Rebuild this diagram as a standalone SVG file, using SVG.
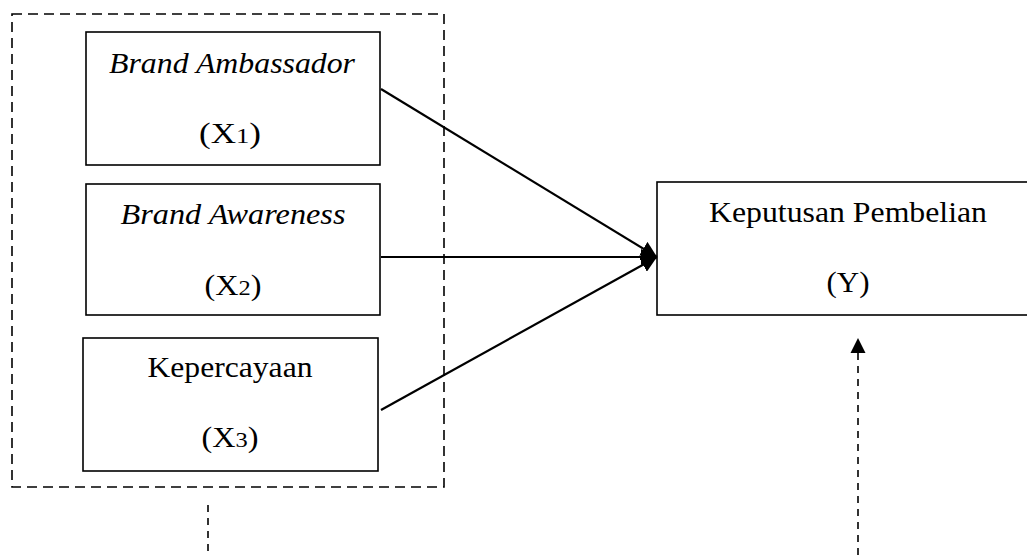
<svg xmlns="http://www.w3.org/2000/svg" width="1027" height="555" viewBox="0 0 1027 555">
<style>
.box{fill:#fff;stroke:#000;stroke-width:1.6}
.t{font-family:"Liberation Serif","Times New Roman",serif;font-size:29px;fill:#000;text-anchor:middle}
.i{font-style:italic}
.sub{font-size:22px}
.conn{stroke:#000;stroke-width:2.2;fill:none}
.dash{stroke:#000;stroke-width:1.6;fill:none;stroke-dasharray:10 6}
.vdash{stroke:#000;stroke-width:1.6;fill:none;stroke-dasharray:7 6}
</style>
<defs>
<marker id="ah" markerUnits="userSpaceOnUse" markerWidth="16" markerHeight="16" viewBox="0 0 15 15" refX="15" refY="7.5" orient="auto">
<path d="M0,0 L15,7.5 L0,15 z" fill="#000"/>
</marker>
</defs>
<rect id="group-x" x="12" y="14" width="432" height="473" class="dash"/>
<g id="x1">
<rect x="86" y="32" width="294" height="133" class="box"/>
<text x="232" y="73" class="t i" textLength="246" lengthAdjust="spacingAndGlyphs">Brand Ambassador</text>
<text x="230" y="143" class="t" textLength="62" lengthAdjust="spacingAndGlyphs">(X<tspan class="sub">1</tspan>)</text>
</g>
<g id="x2">
<rect x="86" y="184" width="294" height="131" class="box"/>
<text x="233" y="224" class="t i" textLength="225" lengthAdjust="spacingAndGlyphs">Brand Awareness</text>
<text x="233" y="295" class="t" textLength="57" lengthAdjust="spacingAndGlyphs">(X<tspan class="sub">2</tspan>)</text>
</g>
<g id="x3">
<rect x="83" y="338" width="295" height="133" class="box"/>
<text x="230" y="377" class="t" textLength="165" lengthAdjust="spacingAndGlyphs">Kepercayaan</text>
<text x="230" y="447" class="t" textLength="57" lengthAdjust="spacingAndGlyphs">(X<tspan class="sub">3</tspan>)</text>
</g>
<g id="y">
<rect x="657" y="182" width="380" height="133" class="box"/>
<text x="848" y="222" class="t" textLength="278" lengthAdjust="spacingAndGlyphs">Keputusan Pembelian</text>
<text x="848" y="292" class="t" textLength="43" lengthAdjust="spacingAndGlyphs">(Y)</text>
</g>
<g id="connectors">
<line x1="381" y1="89" x2="657" y2="257" class="conn" marker-end="url(#ah)"/>
<line x1="381" y1="257" x2="657" y2="257" class="conn" marker-end="url(#ah)"/>
<line x1="381" y1="410" x2="657" y2="257" class="conn" marker-end="url(#ah)"/>
<line x1="208" y1="505" x2="208" y2="555" class="vdash"/>
<line x1="858" y1="555" x2="858" y2="345" class="vdash"/>
<path d="M850.5,353 L858,338 L865.5,353 z" fill="#000"/>
</g>
</svg>
